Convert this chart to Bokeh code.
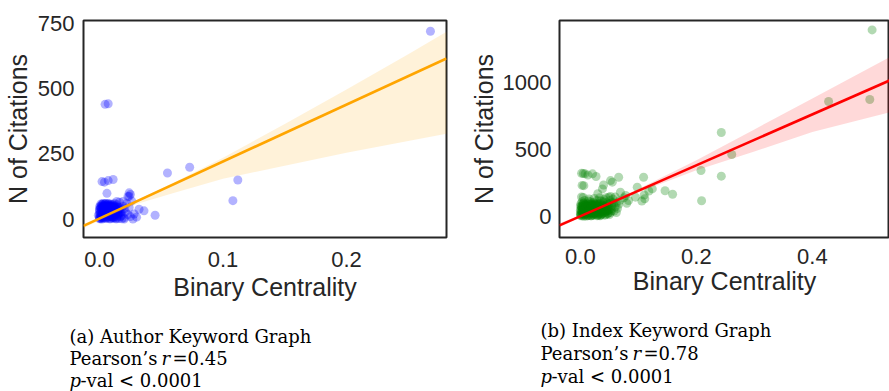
from bokeh.plotting import figure
from bokeh.layouts import column, row
from bokeh.models import Range1d, FixedTicker, NumeralTickFormatter, ColumnDataSource
from bokeh.embed import file_html
from bokeh.resources import INLINE
from bokeh.core.properties import value

# ---------------- (a) Author Keyword Graph ----------------
author_x = [0.268, 0.0045, 0.007, 0.055, 0.073, 0.112, 0.108, 0.045, 0.002, 0.004, 0.007, 0.011,
            0.006, 0.024, 0.023, 0.025, 0.014, 0.019, 0.032, 0.036, 0.027, 0.020, 0.028, 0.030, 0.024,
            0.001, 0.002, 0.003, 0.004, 0.005, 0.006, 0.007, 0.008, 0.001, 0.002, 0.003, 0.004, 0.005,
            0.006, 0.007, 0.008, 0.009, 0.010, 0.011, 0.012, 0.001, 0.002, 0.003, 0.004, 0.005, 0.006,
            0.007, 0.008, 0.009, 0.010, 0.011, 0.012, 0.000, 0.000, 0.000, 0.002, 0.004, 0.006, 0.008,
            0.010, 0.013, 0.014, 0.015, 0.016, 0.017, 0.018, 0.019, 0.020, 0.021, 0.022, 0.023, 0.024,
            0.025, 0.026, 0.014, 0.016, 0.018, 0.020, 0.012, 0.009, 0.005, 0.003, 0.013, 0.015, 0.017,
            0.011, 0.007, 0.001]
author_y = [720, 440, 442, 177, 199, 150, 71, 15, 144, 142, 148, 152,
            99, 101, 87, 95, 68, 68, 38, 32, 1, 1, 20, 8, 88,
            2, 8, 15, 22, 30, 38, 45, 52, 20, 35, 48, 5, 12,
            3, 18, 25, 10, 6, 15, 28, 42, 55, 28, 40, 50, 25,
            8, 36, 44, 30, 4, 12, 10, 28, 5, 1, 33, 48, 2,
            20, 40, 8, 22, 3, 35, 14, 50, 5, 28, 60, 18, 45,
            10, 70, 55, 65, 2, 40, 60, 58, 58, 60, 18, 48, 10,
            50, 60, 58]
# the dense blob near the origin
author_blob_x = [0.000, 0.001, 0.002, 0.003, 0.004, 0.005, 0.006, 0.007, 0.008, 0.009, 0.010, 0.011,
                 0.012, 0.013, 0.014, 0.015, 0.016, 0.000, 0.001, 0.002, 0.003, 0.004, 0.005, 0.006,
                 0.007, 0.008, 0.009, 0.010, 0.011, 0.012, 0.013, 0.014, 0.015, 0.016, 0.001, 0.002,
                 0.003, 0.004, 0.005, 0.006, 0.007, 0.008, 0.009, 0.010, 0.011, 0.012, 0.000, 0.000,
                 0.001, 0.003, 0.005, 0.007, 0.009, 0.011, 0.013, 0.002, 0.004, 0.006, 0.008, 0.010,
                 -0.001, 0.000, 0.001, 0.002, 0.003, 0.004, 0.005, 0.006, 0.007, 0.008, 0.009, 0.010,
                 0.011, 0.012, 0.013, 0.014, 0.015, 0.016, 0.017, 0.018]
author_blob_y = [2, 12, 24, 36, 46, 4, 14, 26, 38, 50, 12, 24,
                 36, 48, 2, 14, 26, 38, 50, 6, 18, 30, 42, 54,
                 34, 20, 30, 44, 56, 6, 2, 30, 35, 45, 30, 44,
                 4, 14, 22, 32, 40, 46, 2, 54, 34, 46, 20, 48,
                 6, 54, 36, 52, 22, 8, 26, 16, 52, 8, 12, 38,
                 15, 35, 45, 58, 50, 58, 60, 45, 58, 55, 40, 50,
                 42, 52, 38, 45, 20, 38, 25, 30]
author_fit = [3.0, 2180.0]          # intercept, slope of the regression line
author_band_x = [-0.013, 0.0, 0.03, 0.06, 0.10, 0.15, 0.20, 0.25, 0.281]
author_band_lo = [-35, -4, 58, 100, 155, 205, 255, 300, 327]
author_band_hi = [-18, 8, 73, 140, 235, 365, 497, 632, 718]
author_xticks = [0.0, 0.1, 0.2]
author_yticks = [0, 250, 500, 750]

# ---------------- (b) Index Keyword Graph ----------------
index_x = [0.001, 0.002, 0.003, 0.004, 0.005, 0.006, 0.007, 0.008, 0.009, 0.010, 0.011, 0.012,
           0.013, 0.014, 0.015, 0.016, 0.017, 0.018, 0.019, 0.020, 0.021, 0.022, 0.023, 0.024,
           0.025, 0.026, 0.027, 0.028, 0.029, 0.030, 0.031, 0.032, 0.033, 0.034, 0.035, 0.036,
           0.037, 0.038, 0.039, 0.040, 0.041, 0.042, 0.043, 0.044, 0.045, 0.046, 0.047, 0.048,
           0.049, 0.050, 0.051, 0.052, 0.053, 0.054, 0.055, 0.056, 0.058, 0.060, 0.062, 0.064,
           0.066, 0.068, 0.000, 0.000, 0.000, 0.001, 0.002, 0.003, 0.004, 0.005, 0.006, 0.008,
           0.010, 0.012, 0.014, 0.016, 0.018, 0.020, 0.022, 0.025, 0.028, 0.031, 0.034, 0.038,
           0.042, 0.046, 0.050, 0.054, 0.058, 0.062, 0.003, 0.007, 0.011, 0.015, 0.019, 0.024,
           0.029, 0.033, 0.044, 0.052, 0.060,
           0.002, 0.005, 0.003, 0.006, 0.002, 0.005, 0.008,
           0.021, 0.027, 0.038, 0.055, 0.066, 0.049, 0.078, 0.109, 0.098, 0.095, 0.110, 0.118,
           0.083, 0.069, 0.146, 0.159, 0.124, 0.111, 0.106, 0.080, 0.052, 0.013, 0.030, 0.040,
           0.075, 0.208, 0.209, 0.243, 0.243, 0.261, 0.428, 0.499, 0.503]
index_y = [5, 20, 40, 60, 80, 100, 15, 35, 55, 75, 95, 10,
           30, 50, 70, 90, 110, 5, 25, 45, 65, 85, 105, 20,
           40, 60, 80, 100, 120, 8, 30, 52, 74, 96, 118, 15,
           38, 60, 82, 104, 126, 10, 34, 58, 80, 102, 20, 45,
           70, 95, 120, 30, 55, 80, 105, 130, 40, 70, 100, 60,
           90, 120, 12, 45, 78, 95, 70, 110, 25, 48, 2, 88,
           3, 68, 115, 28, 62, 100, 18, 92, 35, 88, 5, 112,
           70, 40, 15, 42, 100, 30, 85, 120, 40, 130, 85, 135,
           60, 140, 140, 150, 145,
           322, 320, 232, 230, 145, 142, 318,
           318, 298, 206, 256, 293, 144, 157, 293, 219, 144, 160, 190,
           119, 181, 192, 166, 206, 132, 115, 99, 268, 310, 170, 235,
           140, 343, 117, 627, 301, 463, 858, 873, 1393]
# the dense blob near the origin
index_blob_x = [0.000, 0.001, 0.002, 0.003, 0.004, 0.005, 0.006, 0.007, 0.008, 0.009, 0.010, 0.011,
                0.012, 0.013, 0.014, 0.015, 0.016, 0.017, 0.018, 0.019, 0.020, 0.021, 0.022, 0.023,
                0.024, 0.025, 0.026, 0.027, 0.028, 0.029, 0.030, 0.031, 0.032, 0.033, 0.034, 0.035,
                0.036, 0.037, 0.038, 0.039, 0.040, 0.041, 0.042, 0.043, 0.044, 0.045, 0.046, 0.047,
                0.048, 0.049, 0.001, 0.003, 0.005, 0.007, 0.009, 0.011, 0.013, 0.015, 0.017, 0.019,
                0.021, 0.023, 0.025, 0.027, 0.029, 0.031, 0.033, 0.035, 0.037, 0.039, 0.002, 0.006,
                0.010, 0.014, 0.018, 0.022, 0.026, 0.030, 0.034, 0.038]
index_blob_y = [25, 50, 75, 5, 30, 55, 80, 10, 35, 60, 85, 20,
                45, 70, 95, 10, 40, 65, 90, 5, 30, 55, 80, 10,
                45, 70, 15, 35, 55, 5, 40, 65, 20, 45, 70, 10,
                35, 60, 85, 25, 50, 75, 30, 55, 15, 40, 65, 90,
                25, 50, 15, 65, 95, 45, 20, 70, 5, 55, 25, 75,
                10, 60, 30, 85, 50, 15, 90, 55, 20, 70, 40, 20,
                50, 35, 60, 25, 90, 75, 30, 45]
index_fit = [2.0, 1900.0]           # intercept, slope of the regression line
index_band_x = [-0.036, 0.0, 0.05, 0.10, 0.20, 0.30, 0.40, 0.533]
index_band_lo = [-80, -6, 90, 180, 345, 485, 630, 778]
index_band_hi = [-50, 10, 104, 205, 420, 650, 880, 1189]
index_xticks = [0.0, 0.2, 0.4]
index_yticks = [0, 500, 1000]

captions_a = ["(a) Author Keyword Graph", "Pearson\u2019s", "r", "=0.45", "p", "-val < 0.0001"]
captions_b = ["(b) Index Keyword Graph", "Pearson\u2019s", "r", "=0.78", "p", "-val < 0.0001"]

TXT = "#262626"
SANS = "Liberation Sans"
ROW_H = 312


def panel(xs, ys, fit, bx, blo, bhi, xticks, yticks, xr, yr, pt_color, ln_color,
          width, height, bl, br, bt, bb, x_std, x_lab_std, y_std, y_lab_std):
    p = figure(width=width, height=height, x_range=Range1d(*xr), y_range=Range1d(*yr),
               output_backend="svg", toolbar_location=None, title=None,
               min_border_left=bl, min_border_right=br, min_border_top=bt, min_border_bottom=bb)
    p.grid.visible = False
    p.outline_line_color = TXT
    p.outline_line_width = 2
    p.outline_line_alpha = 1
    p.background_fill_color = "white"
    p.border_fill_color = "white"
    for ax in (p.xaxis, p.yaxis):
        ax.axis_line_color = None
        ax.major_tick_line_color = None
        ax.minor_tick_line_color = None
        ax.major_tick_out = 0
        ax.major_tick_in = 0
        ax.minor_tick_out = 0
        ax.minor_tick_in = 0
        ax.major_label_text_font = SANS
        ax.major_label_text_font_size = "22px"
        ax.major_label_text_color = TXT
        ax.axis_label_text_font = SANS
        ax.axis_label_text_font_size = "25px"
        ax.axis_label_text_font_style = "normal"
        ax.axis_label_text_color = TXT
    p.xaxis.ticker = FixedTicker(ticks=xticks)
    p.yaxis.ticker = FixedTicker(ticks=yticks)
    p.xaxis.formatter = NumeralTickFormatter(format="0.0")
    p.xaxis.axis_label = "Binary Centrality"
    p.yaxis.axis_label = "N of Citations"
    p.xaxis.major_label_standoff = x_std
    p.xaxis.axis_label_standoff = x_lab_std
    p.yaxis.major_label_standoff = y_std
    p.yaxis.axis_label_standoff = y_lab_std

    p.scatter(x=xs, y=ys, size=9, fill_color=pt_color, fill_alpha=0.3, line_color=None)
    p.varea(x=bx, y1=blo, y2=bhi, fill_color=ln_color, fill_alpha=0.15)
    lx = [xr[0], xr[1]]
    ly = [fit[0] + fit[1] * v for v in lx]
    p.line(x=lx, y=ly, line_color=ln_color, line_width=2.6)
    return p


p1 = panel(author_x + author_blob_x, author_y + author_blob_y, author_fit,
           author_band_x, author_band_lo, author_band_hi,
           author_xticks, author_yticks, (-0.013, 0.281), (-70, 761), "blue", "orange",
           466, ROW_H, 83, 20, 14, ROW_H - 241, 14, 3, 9, 3)
p2 = panel(index_x + index_blob_x, index_y + index_blob_y, index_fit,
           index_band_x, index_band_lo, index_band_hi,
           index_xticks, index_yticks, (-0.036, 0.533), (-157, 1463), "green", "red",
           423, ROW_H, 89, 0, 20, ROW_H - 237, 11, 0, 8, 2)

# captions
cap = figure(width=889, height=391 - ROW_H, x_range=Range1d(0, 889), y_range=Range1d(391, ROW_H),
             output_backend="svg", toolbar_location=None, title=None,
             min_border=0, min_border_left=0, min_border_right=0, min_border_top=0, min_border_bottom=0)
cap.axis.visible = False
cap.grid.visible = False
cap.outline_line_color = None


def caption(texts, x0, base, r_dx, eq_dx, val_dx):
    xs = [x0, x0, x0 + r_dx, x0 + eq_dx, x0, x0 + val_dx]
    ys = [base[0], base[1], base[1], base[1], base[2], base[2]]
    styles = ["normal", "normal", "italic", "normal", "italic", "normal"]
    src = ColumnDataSource(dict(x=xs, y=ys, t=texts, s=styles))
    cap.text(x="x", y="y", text="t", text_font_style="s", source=src,
             text_font=value("DejaVu Serif"), text_font_size="18px", text_color="black",
             text_baseline="alphabetic", text_align="left")


caption(captions_a, 69, [336, 358, 380], 92, 103, 11)
caption(captions_b, 540, [330, 353, 376], 92, 103, 11)

layout = column(row(p1, p2), cap)
open("out.html", "w").write(file_html(layout, INLINE))
